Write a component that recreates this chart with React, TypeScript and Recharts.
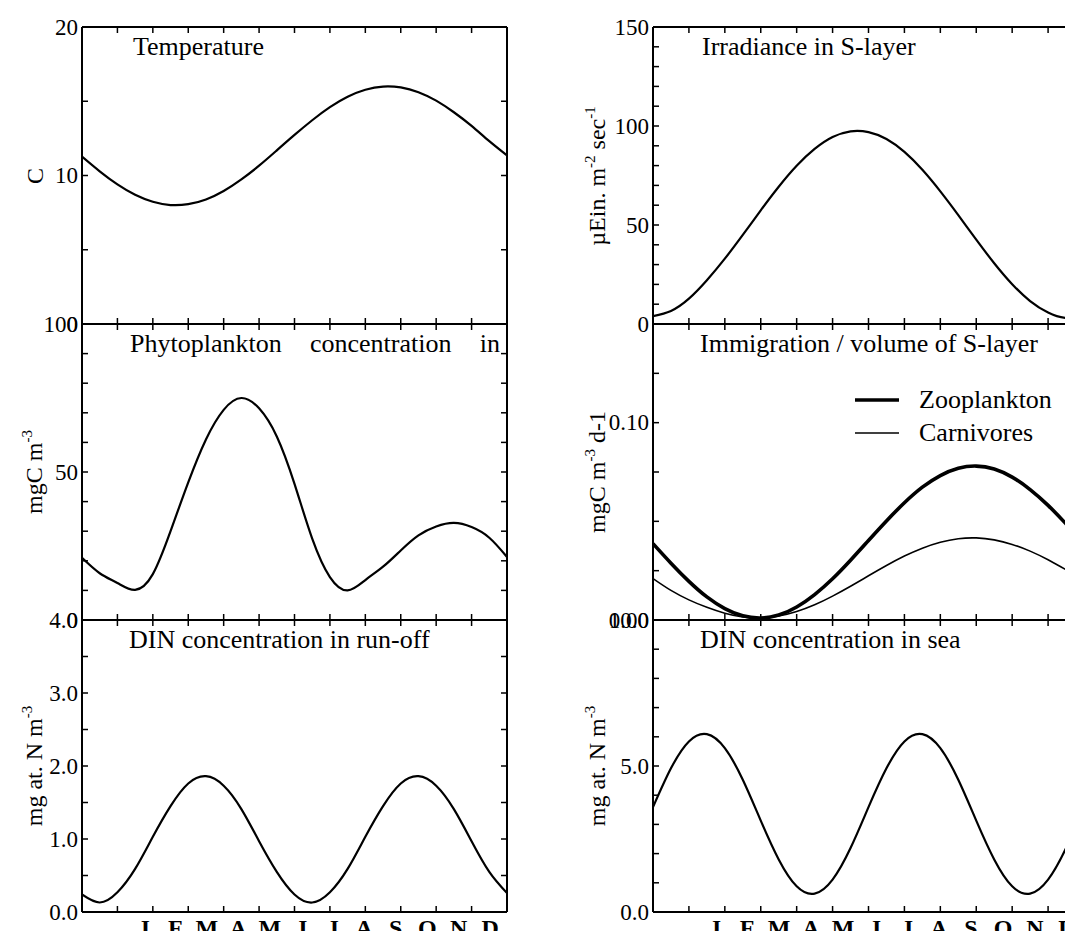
"use client";

import React from "react";
import { LineChart, Line, XAxis, YAxis, Legend } from "recharts";

const SERIF = '"Liberation Serif", "Times New Roman", serif';

// sample positions, in months from the left edge of each panel
const steps = [0, 0.5, 1, 1.5, 2, 2.5, 3, 3.5, 4, 4.5, 5, 5.5, 6, 6.5, 7, 7.5, 8, 8.5, 9, 9.5, 10, 10.5, 11, 11.5, 12];
const monthTicks = [0, 1, 2, 3, 4, 5, 6, 7, 8, 9, 10, 11, 12];
const months = ["J", "F", "M", "A", "M", "J", "J", "A", "S", "O", "N", "D"];

// values
const temperature = [11.27, 10.28, 9.4, 8.7, 8.23, 8.01, 8.07, 8.39, 8.96, 9.74, 10.66, 11.69, 12.73, 13.72, 14.6, 15.3, 15.77, 15.99, 15.93, 15.61, 15.04, 14.26, 13.34, 12.31, 11.35];
const phytoplankton = [21, 15.8, 12.5, 10.2, 15.5, 30, 46.5, 61, 71, 75, 71.5, 62, 46, 27.5, 14.5, 10, 13.5, 18, 23.5, 28.6, 31.6, 32.8, 31.4, 27.8, 21.3];
const dinRunoff = [0.24, 0.13, 0.27, 0.59, 1.03, 1.45, 1.76, 1.86, 1.73, 1.41, 0.97, 0.55, 0.24, 0.13, 0.27, 0.59, 1.03, 1.45, 1.76, 1.86, 1.73, 1.41, 0.97, 0.55, 0.26];
const irradiance = [4, 6.6, 12.8, 22.1, 33, 45, 57.4, 69.3, 79.9, 88.4, 94.4, 97.3, 96.9, 93.4, 86.9, 77.9, 67, 55, 42.6, 30.7, 20.1, 11.6, 5.8, 3, 3.5];
const zooplankton = [0.0387, 0.0288, 0.0196, 0.0117, 0.0058, 0.0021, 0.001, 0.0025, 0.0066, 0.0129, 0.0209, 0.0303, 0.0403, 0.0502, 0.0594, 0.0673, 0.0732, 0.0769, 0.078, 0.0765, 0.0724, 0.0661, 0.0581, 0.0487, 0.0387];
const carnivores = [0.021, 0.015, 0.0102, 0.0064, 0.0034, 0.0015, 0.001, 0.002, 0.0043, 0.0077, 0.0121, 0.0171, 0.0224, 0.0276, 0.0324, 0.0364, 0.0394, 0.0412, 0.0416, 0.0406, 0.0383, 0.0349, 0.0305, 0.0255, 0.021];
const dinSea = [3.59, 4.92, 5.84, 6.09, 5.61, 4.53, 3.13, 1.8, 0.88, 0.63, 1.11, 2.19, 3.59, 4.92, 5.84, 6.09, 5.61, 4.53, 3.13, 1.8, 0.88, 0.63, 1.11, 2.19, 3.59];

// y ticks (all marks) and the ones that carry a label
const tempTicks = [0, 5, 10, 15, 20];
const tempLabels = [0, 10, 20];
const phytoTicks = [0, 10, 20, 30, 40, 50, 60, 70, 80, 90, 100];
const phytoLabels = [0, 50, 100];
const runoffTicks = [0, 0.5, 1, 1.5, 2, 2.5, 3, 3.5, 4];
const runoffLabels = [0, 1, 2, 3, 4];
const irrTicks = [0, 10, 20, 30, 40, 50, 60, 70, 80, 90, 100, 110, 120, 130, 140, 150];
const irrLabels = [0, 50, 100, 150];
const immTicks = [0, 0.025, 0.05, 0.075, 0.1, 0.125, 0.15];
const immLabels = [0, 0.1];
const seaTicks = [0, 1, 2, 3, 4, 5, 6, 7, 8, 9, 10];
const seaLabels = [0, 5, 10];

type Curve = { key: string; name: string; values: number[]; width: number };

type PanelProps = {
  left: number;
  top: number;
  w: number;
  h: number;
  curves: Curve[];
  domain: [number, number];
  ticks: number[];
  labels: number[];
  decimals: number;
  title: string;
  titleDx: number;
  titleW?: number;
  yTitle: React.ReactNode;
  yTitleX: number;
  showMonths?: boolean;
  legend?: boolean;
};

const sup = (s: string) => (
  <span style={{ fontSize: 15, position: "relative", top: -10 }}>{s}</span>
);

// tick marks only, no text
const noLabel = () => <g />;

function Panel(p: PanelProps) {
  const axisW = 80;
  const monthH = p.showMonths ? 32 : 0;
  const width = axisW + p.w + 12;
  const height = 15 + p.h + monthH + 15;
  const rows = steps.map((m, i) => {
    const row: Record<string, number> = { m };
    p.curves.forEach((c) => (row[c.key] = c.values[i]));
    return row;
  });

  const yTick = (props: any) => {
    const { x, y, payload } = props;
    return (
      <text x={x} y={y} dy="0.34em" textAnchor="end" fontSize={23} fontFamily={SERIF} fill="#000">
        {payload.value.toFixed(p.decimals)}
      </text>
    );
  };

  const monthTick = (props: any) => {
    const { x, y, payload } = props;
    return (
      <text x={x} y={y} dy={24} textAnchor="middle" fontSize={24} fontWeight={700} fontFamily={SERIF} fill="#000">
        {months[Math.floor(payload.value)]}
      </text>
    );
  };

  const line = { stroke: "#000", strokeWidth: 2 };
  const tickLine = { stroke: "#000", strokeWidth: 1.5 };

  return (
    <>
      <div style={{ position: "absolute", left: p.left - axisW, top: p.top - 15 }}>
        <LineChart width={width} height={height} data={rows} margin={{ top: 15, right: 12, bottom: 15, left: 0 }}>
          <XAxis xAxisId="b" dataKey="m" type="number" domain={[0, 12]} allowDataOverflow ticks={monthTicks}
            interval={0} height={1} mirror tick={noLabel} tickSize={6} axisLine={line} tickLine={tickLine} />
          {p.showMonths && (
            <XAxis xAxisId="mo" dataKey="m" type="number" domain={[0, 12]} allowDataOverflow
              ticks={months.map((_, i) => i + 0.5)} interval={0} height={monthH}
              padding={{ left: 46, right: 1 }} axisLine={false} tickLine={false} tickSize={0} tickMargin={0}
              tick={monthTick} />
          )}
          <XAxis xAxisId="t" dataKey="m" type="number" orientation="top" domain={[0, 12]} allowDataOverflow
            ticks={monthTicks} interval={0} height={1} mirror tick={noLabel} tickSize={6} axisLine={line} tickLine={tickLine} />
          <YAxis yAxisId="l" type="number" domain={p.domain} allowDataOverflow ticks={p.labels} interval={0}
            width={axisW} tickSize={0} tickMargin={4} tick={yTick} axisLine={line} tickLine={false} />
          <YAxis yAxisId="lm" type="number" domain={p.domain} allowDataOverflow ticks={p.ticks} interval={0}
            width={1} mirror tick={noLabel} tickSize={6} axisLine={false} tickLine={tickLine} />
          <YAxis yAxisId="r" type="number" orientation="right" domain={p.domain} allowDataOverflow ticks={p.ticks}
            interval={0} width={1} mirror tick={noLabel} tickSize={6} axisLine={line} tickLine={tickLine} />
          {p.curves.map((c) => (
            <Line key={c.key} xAxisId="b" yAxisId="l" type="natural" dataKey={c.key} name={c.name}
              stroke="#000" strokeWidth={c.width} dot={false} activeDot={false} isAnimationActive={false} />
          ))}
          {p.legend && (
            <Legend layout="vertical" align="center" verticalAlign="middle"
              wrapperStyle={{ left: 282, top: 74, width: 230 }}
              content={() => (
                <div>
                  {p.curves.map((c) => (
                    <div key={c.key} style={{ display: "flex", alignItems: "center", height: 33 }}>
                      <svg width={44} height={8}>
                        <line x1={0} x2={44} y1={4} y2={4} stroke="#000" strokeWidth={c.width} />
                      </svg>
                      <span style={{ marginLeft: 20, fontSize: 26, lineHeight: "26px", fontFamily: SERIF }}>{c.name}</span>
                    </div>
                  ))}
                </div>
              )} />
          )}
        </LineChart>
      </div>
      <div
        style={{
          position: "absolute",
          left: p.left + p.titleDx,
          top: p.top + 7,
          fontSize: 26,
          lineHeight: "26px",
          whiteSpace: p.titleW ? "normal" : "nowrap",
          width: p.titleW,
          textAlign: p.titleW ? "justify" : "left",
          textAlignLast: p.titleW ? "justify" : "auto",
        }}
      >
        {p.title}
      </div>
      <div
        style={{
          position: "absolute",
          left: p.yTitleX,
          top: p.top + p.h / 2,
          transform: "translate(-50%, -50%) rotate(-90deg)",
          whiteSpace: "nowrap",
          fontSize: 24,
          lineHeight: "24px",
        }}
      >
        {p.yTitle}
      </div>
    </>
  );
}

export default function App() {
  const L = 82;
  const LW = 425;
  const R = 653;
  const RW = 431;
  return (
    <div
      style={{
        position: "relative",
        margin: -8,
        width: 1073,
        height: 939,
        overflow: "hidden",
        background: "#fff",
        fontFamily: SERIF,
        color: "#000",
      }}
    >
      <Panel left={L} top={27} w={LW} h={297} curves={[{ key: "v", name: "Temperature", values: temperature, width: 2.2 }]}
        domain={[0, 20]} ticks={tempTicks} labels={tempLabels} decimals={0} title="Temperature" titleDx={51}
        yTitle="C" yTitleX={35} />
      <Panel left={L} top={324} w={LW} h={296} curves={[{ key: "v", name: "Phytoplankton", values: phytoplankton, width: 2.2 }]}
        domain={[0, 100]} ticks={phytoTicks} labels={phytoLabels} decimals={0} title="Phytoplankton concentration in"
        titleDx={48} titleW={370} yTitle={<>mgC m{sup("-3")}</>} yTitleX={35} />
      <Panel left={L} top={620} w={LW} h={292} curves={[{ key: "v", name: "DIN run-off", values: dinRunoff, width: 2.2 }]}
        domain={[0, 4]} ticks={runoffTicks} labels={runoffLabels} decimals={1} title="DIN concentration in run-off"
        titleDx={47} yTitle={<>mg at. N m{sup("-3")}</>} yTitleX={35} showMonths />
      <Panel left={R} top={27} w={RW} h={297} curves={[{ key: "v", name: "Irradiance", values: irradiance, width: 2.2 }]}
        domain={[0, 150]} ticks={irrTicks} labels={irrLabels} decimals={0} title="Irradiance in S-layer" titleDx={49}
        yTitle={<>µEin. m{sup("-2")} sec{sup("-1")}</>} yTitleX={598} />
      <Panel left={R} top={324} w={RW} h={296}
        curves={[
          { key: "zoo", name: "Zooplankton", values: zooplankton, width: 3.6 },
          { key: "carn", name: "Carnivores", values: carnivores, width: 1.6 },
        ]}
        domain={[0, 0.15]} ticks={immTicks} labels={immLabels} decimals={2} title="Immigration / volume of S-layer"
        titleDx={47} yTitle={<>mgC m{sup("-3")} d-1</>} yTitleX={598} legend />
      <Panel left={R} top={620} w={RW} h={292} curves={[{ key: "v", name: "DIN sea", values: dinSea, width: 2.2 }]}
        domain={[0, 10]} ticks={seaTicks} labels={seaLabels} decimals={1} title="DIN concentration in sea" titleDx={47}
        yTitle={<>mg at. N m{sup("-3")}</>} yTitleX={598} showMonths />
    </div>
  );
}
